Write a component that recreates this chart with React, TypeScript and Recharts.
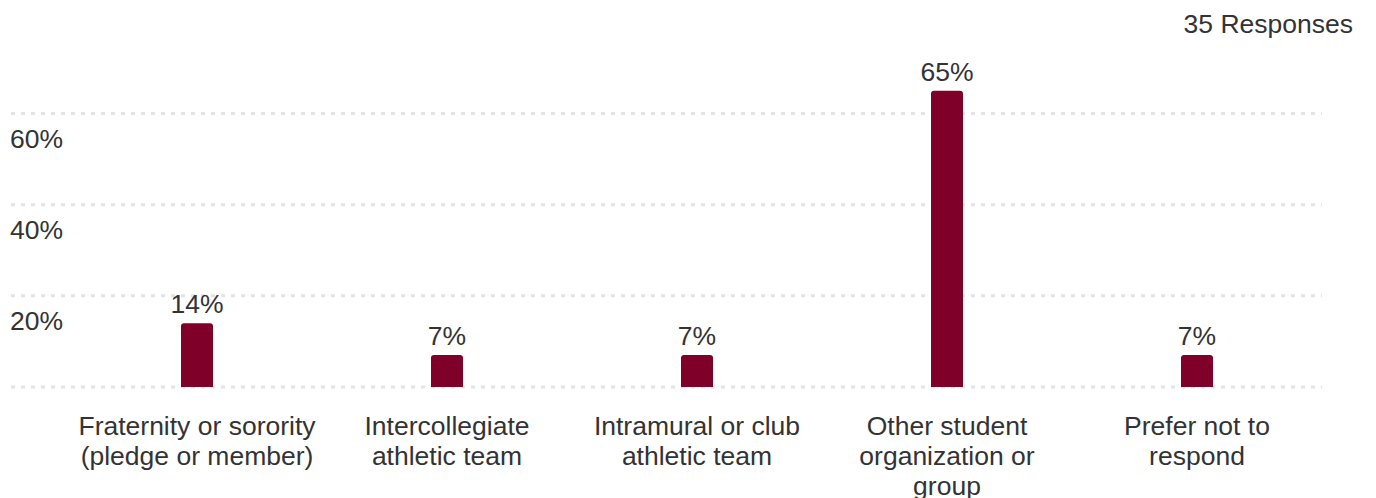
import React from "react";
import { BarChart, Bar, XAxis, YAxis, CartesianGrid, LabelList } from "recharts";

// ── Data ────────────────────────────────────────────────────────────────────

const categories = [
  "Fraternity or sorority (pledge or member)",
  "Intercollegiate athletic team",
  "Intramural or club athletic team",
  "Other student organization or group",
  "Prefer not to respond",
];
const shares = [14, 7, 7, 65, 7];
const yTicks = [0, 20, 40, 60];
const responseCount = 35;

const data = categories.map((name, i) => ({ name, share: shares[i] }));

// ── Styles ──────────────────────────────────────────────────────────────────

const FONT = "'Liberation Sans', Arial, Helvetica, sans-serif";
const FONT_SIZE = 26.5;
const TEXT = "#333333";
const BAR = "#7f0028";
const GRID = "#e4e4e4";

// simple word wrap using canvas text metrics
let ctx: CanvasRenderingContext2D | null = null;
function wrap(text: string, maxWidth: number): string[] {
  if (!ctx) {
    ctx = document.createElement("canvas").getContext("2d");
  }
  if (ctx) ctx.font = `${FONT_SIZE}px ${FONT}`;
  const words = text.split(" ");
  const lines: string[] = [];
  let cur = "";
  for (const w of words) {
    const next = cur ? cur + " " + w : w;
    const width = ctx ? ctx.measureText(next).width : next.length * 13;
    if (width > maxWidth && cur) {
      lines.push(cur);
      cur = w;
    } else {
      cur = next;
    }
  }
  if (cur) lines.push(cur);
  return lines;
}

function CategoryTick(props: any) {
  const { x, y, payload } = props;
  const lines = wrap(String(payload.value), 242);
  return (
    <text x={x} y={y + 48} textAnchor="middle" fill={TEXT} fontSize={FONT_SIZE} fontFamily={FONT}>
      {lines.map((line, i) => (
        <tspan key={i} x={x} dy={i === 0 ? 0 : 30}>
          {line}
        </tspan>
      ))}
    </text>
  );
}

function renderPercentTick(props: any) {
  const { x, y, payload } = props;
  if (payload.value === 0) return <g />;
  return (
    <text x={x - 1} y={y + 34} textAnchor="start" fill={TEXT} fontSize={FONT_SIZE} fontFamily={FONT}>
      {`${payload.value}%`}
    </text>
  );
}

export default function App() {
  return (
    <div style={{ position: "absolute", left: 0, top: 0, width: 1376, height: 498, fontFamily: FONT }}>
      <div
        style={{
          position: "absolute",
          right: 23,
          top: 9,
          fontSize: FONT_SIZE,
          lineHeight: "30px",
          color: TEXT,
        }}
      >
        {responseCount} Responses
      </div>
      <BarChart
        width={1376}
        height={498}
        data={data}
        margin={{ top: 68, right: 54, left: 10, bottom: 0 }}
      >
        <CartesianGrid
          horizontal
          vertical={false}
          horizontalValues={yTicks}
          stroke={GRID}
          strokeWidth={3}
          strokeDasharray="4 6"
        />
        <XAxis
          dataKey="name"
          height={111}
          padding={{ left: 61, right: 0 }}
          axisLine={false}
          tickLine={false}
          tickSize={0}
          tickMargin={0}
          interval={0}
          tick={<CategoryTick />}
        />
        <YAxis
          domain={[0, 70]}
          ticks={yTicks}
          interval={0}
          width={1}
          axisLine={false}
          tickLine={false}
          tickSize={0}
          tickMargin={0}
          tick={renderPercentTick}
        />
        <Bar dataKey="share" fill={BAR} barSize={32} radius={[3, 3, 0, 0]} isAnimationActive={false}>
          <LabelList
            dataKey="share"
            position="top"
            offset={10}
            formatter={(v: any) => `${v}%`}
            fill={TEXT}
            fontSize={FONT_SIZE}
            fontFamily={FONT}
          />
        </Bar>
      </BarChart>
    </div>
  );
}
